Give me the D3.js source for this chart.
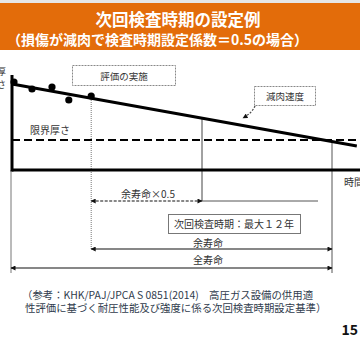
<!DOCTYPE html>
<html><head><meta charset="utf-8">
<script src="https://cdn.jsdelivr.net/npm/d3@7"></script>
<style>
html,body{margin:0;padding:0;background:#fff;}
svg{display:block;}
text{font-family:"Noto Sans CJK JP","Noto Sans",sans-serif;}
</style></head>
<body>
<script>
// ---- data ----
const titleLines = ["次回検査時期の設定例", "（損傷が減肉で検査時期設定係数＝0.5の場合）"];
const dotTimes = [0.25, 2.5, 5, 7.1, 9.9];
const dotThickness = [88, 81, 83, 70, 74];
const trendTimes = [0, 43.1];
const trendThickness = [86, 24];
const limitThickness = [30];
const evalTime = [9.9];
const halfTime = [23.75];
const lifeEnd = [40];
const axisLabels = ["厚さ", "時間"];
const annotLabels = ["評価の実施", "減肉速度", "限界厚さ", "余寿命×0.5", "次回検査時期：最大１２年", "余寿命", "全寿命"];
const footLines = ["（参考：KHK/PAJ/JPCA S 0851(2014)　高圧ガス設備の供用適", "性評価に基づく耐圧性能及び強度に係る次回検査時期設定基準）"];
const pageNo = ["15"];

const W = 360, H = 350;
const svg = d3.select("body").append("svg").attr("width", W).attr("height", H);

const defs = svg.append("defs");
defs.append("marker").attr("id", "ah").attr("viewBox","0 0 10 10")
  .attr("refX", 9).attr("refY", 5).attr("markerWidth", 6).attr("markerHeight", 5)
  .attr("markerUnits","userSpaceOnUse").attr("orient", "auto-start-reverse")
  .append("path").attr("d","M0,0 L10,5 L0,10 z").attr("fill","#111");

// header
svg.append("rect").attr("x",0).attr("y",0).attr("width",W).attr("height",3).attr("fill","#e6e6e6");
svg.append("rect").attr("x",0).attr("y",3).attr("width",W).attr("height",47).attr("fill","#E36C0A");
svg.append("text").attr("x",178).attr("y",26).attr("text-anchor","middle")
  .attr("font-size",16.5).attr("font-weight","bold").attr("fill","#fff").text(titleLines[0]);
svg.append("text").attr("x",7).attr("y",44.5).attr("text-anchor","start")
  .attr("font-size",14).attr("font-weight","bold").attr("fill","#fff").text(titleLines[1]);

// scales
const x = d3.scaleLinear().domain([0, 43.5]).range([12, 360]);
const y = d3.scaleLinear().domain([0, 100]).range([170, 70]);

const x0 = x(0), yb = y(0);

// extension verticals
svg.append("line").attr("x1",x0-1).attr("x2",x0-1).attr("y1",yb).attr("y2",273).attr("stroke","#777").attr("stroke-width",1);
svg.append("line").attr("x1",x(lifeEnd[0])).attr("x2",x(lifeEnd[0])).attr("y1",y(limitThickness[0])).attr("y2",273).attr("stroke","#555").attr("stroke-width",1);
svg.append("line").attr("x1",x(halfTime[0])).attr("x2",x(halfTime[0]))
  .attr("y1", y(trendThickness[0] + (trendThickness[1]-trendThickness[0])*halfTime[0]/trendTimes[1])).attr("y2",201)
  .attr("stroke","#444").attr("stroke-width",1);
svg.append("line").attr("x1",x(evalTime[0])).attr("x2",x(evalTime[0])).attr("y1",y(dotThickness[4])).attr("y2",249)
  .attr("stroke","#777").attr("stroke-width",1).attr("stroke-dasharray","1,1");

// axes
svg.append("line").attr("x1",x0).attr("x2",x0).attr("y1",y(95)).attr("y2",yb+1.5).attr("stroke","#000").attr("stroke-width",3);
svg.append("line").attr("x1",x0).attr("x2",W).attr("y1",yb).attr("y2",yb).attr("stroke","#000").attr("stroke-width",3);

// limit line
svg.append("line").attr("x1",x0).attr("x2",x(43.1)).attr("y1",y(limitThickness[0])).attr("y2",y(limitThickness[0]))
  .attr("stroke","#000").attr("stroke-width",2).attr("stroke-dasharray","8,4");

// trend line
const trend = trendTimes.map((t,i)=>[t, trendThickness[i]]);
svg.append("path").attr("d", d3.line().x(d=>x(d[0])).y(d=>y(d[1]))(trend))
  .attr("stroke","#000").attr("stroke-width",3).attr("fill","none");

// dots
svg.selectAll("circle.dot").data(dotTimes.map((t,i)=>[t,dotThickness[i]])).enter()
  .append("circle").attr("class","dot").attr("cx",d=>x(d[0])).attr("cy",d=>y(d[1])).attr("r",3.6).attr("fill","#000");

// axis labels
svg.append("text").attr("x",6).attr("y",75).attr("font-size",9).attr("fill","#333").attr("text-anchor","end").text(axisLabels[0][0]);
svg.append("text").attr("x",6).attr("y",88).attr("font-size",9).attr("fill","#333").attr("text-anchor","end").text(axisLabels[0][1]);
svg.append("text").attr("x",344).attr("y",186).attr("font-size",10).attr("fill","#333").text(axisLabels[1]);

// annotation boxes
function box(x1,y1,w,h,dash,stroke){
  svg.append("rect").attr("x",x1).attr("y",y1).attr("width",w).attr("height",h)
    .attr("fill","#fff").attr("stroke",stroke).attr("stroke-width",1).attr("stroke-dasharray",dash);
}
box(72.5,65.5,103,20,"2,1","#888");
svg.append("text").attr("x",124).attr("y",79.5).attr("text-anchor","middle").attr("font-size",9.5).attr("fill","#333").text(annotLabels[0]);
box(254.5,86.5,61,19,"2,1","#888");
svg.append("text").attr("x",285).attr("y",100).attr("text-anchor","middle").attr("font-size",9.5).attr("fill","#333").text(annotLabels[1]);
svg.append("path").attr("d","M255,106 Q252,113 243,118").attr("fill","none").attr("stroke","#444")
  .attr("stroke-width",1.2).attr("stroke-dasharray","2,1.5").attr("marker-end","url(#ah)");

svg.append("text").attr("x",30).attr("y",134).attr("font-size",10).attr("fill","#333").text(annotLabels[2]);

// 余寿命×0.5
svg.append("text").attr("x",148).attr("y",198).attr("text-anchor","middle").attr("font-size",10).attr("fill","#333").text(annotLabels[3]);
svg.append("line").attr("x1",x(evalTime[0])).attr("x2",x(halfTime[0])).attr("y1",201).attr("y2",201)
  .attr("stroke","#111").attr("stroke-width",1.2).attr("stroke-dasharray","3,1.5")
  .attr("marker-start","url(#ah)").attr("marker-end","url(#ah)");
svg.append("line").attr("x1",x(halfTime[0])).attr("x2",318).attr("y1",201).attr("y2",201).attr("stroke","#555").attr("stroke-width",1);

// box 次回検査時期
box(168.5,214.5,132,19,null,"#777");
svg.append("text").attr("x",234).attr("y",228).attr("text-anchor","middle").attr("font-size",10).attr("fill","#333").text(annotLabels[4]);

// 余寿命
svg.append("text").attr("x",208).attr("y",246.5).attr("text-anchor","middle").attr("font-size",10).attr("fill","#333").text(annotLabels[5]);
svg.append("line").attr("x1",x(evalTime[0])).attr("x2",x(lifeEnd[0])).attr("y1",249).attr("y2",249)
  .attr("stroke","#111").attr("stroke-width",1.2).attr("marker-start","url(#ah)").attr("marker-end","url(#ah)");
// 全寿命
svg.append("text").attr("x",208).attr("y",264).attr("text-anchor","middle").attr("font-size",10).attr("fill","#333").text(annotLabels[6]);
svg.append("line").attr("x1",x0-1).attr("x2",x(lifeEnd[0])).attr("y1",268).attr("y2",268)
  .attr("stroke","#111").attr("stroke-width",1.2).attr("marker-start","url(#ah)").attr("marker-end","url(#ah)");

// footnote
svg.append("text").attr("x",22).attr("y",298.5).attr("font-size",10.4).attr("fill","#2f3b4c").text(footLines[0]);
svg.append("text").attr("x",25).attr("y",312).attr("font-size",10.4).attr("fill","#2f3b4c").text(footLines[1]);
svg.append("text").attr("x",358).attr("y",335).attr("text-anchor","end").attr("font-size",14).attr("font-weight","bold").attr("fill","#111").text(pageNo[0]);
</script>
</body></html>
